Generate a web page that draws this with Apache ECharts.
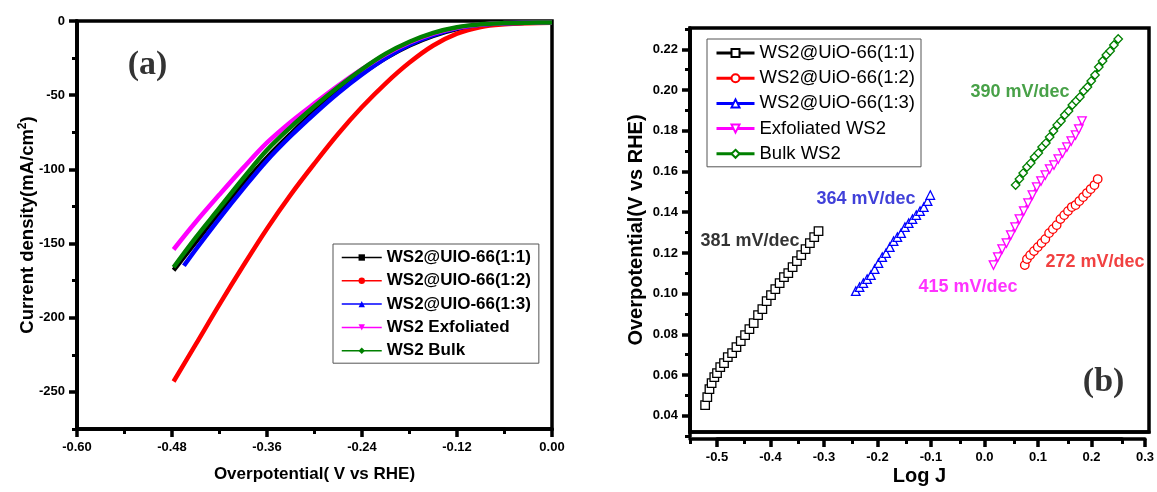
<!DOCTYPE html>
<html><head><meta charset="utf-8">
<script src="https://cdn.jsdelivr.net/npm/echarts@6/dist/echarts.min.js"></script>
<style>html,body{margin:0;padding:0;background:#fff}#c{width:1157px;height:492px}</style>
</head><body><div id="c"></div>
<script>
// ---------- Panel (a): polarization curves ----------
const lsvNames = ['WS2@UIO-66(1:1)','WS2@UIO-66(1:2)','WS2@UIO-66(1:3)','WS2 Exfoliated','WS2 Bulk'];
const lsvColors = ['#000000','#ff0000','#0000ff','#ff00ff','#008000'];
const lsvX   = [-0.478,-0.45,-0.42,-0.39,-0.36,-0.33,-0.30,-0.27,-0.24,-0.21,-0.18,-0.15,-0.12,-0.09,-0.06,-0.03,0];
const lsvX13 = [-0.465,-0.45,-0.42,-0.39,-0.36,-0.33,-0.30,-0.27,-0.24,-0.21,-0.18,-0.15,-0.12,-0.09,-0.06,-0.03,0];
const lsv11  = [-168,-149,-129,-110,-92,-76,-61,-47.5,-35.5,-25,-16.5,-10,-5.5,-2.8,-1.6,-1.1,-1];
const lsv12  = [-243,-218,-191,-165,-140,-117,-96,-76,-58,-42,-28,-16.5,-8.5,-4,-2.2,-1.5,-1.2];
const lsv13  = [-165,-154,-133,-113,-94,-77.5,-62.5,-48.5,-36,-25,-16,-9.5,-5,-2.6,-1.5,-1.1,-1];
const lsvExf = [-154,-135.5,-117,-99,-82,-68,-55.5,-43.5,-32.5,-22.5,-14.5,-8.5,-4.5,-2.3,-1.4,-1.1,-1];
const lsvBulk= [-166,-146,-126,-106,-87,-71.5,-57.5,-44.5,-32.5,-22,-14,-8,-4.2,-2.2,-1.4,-1.1,-1];

// ---------- Panel (b): Tafel plots ----------
const tafNames = ['WS2@UiO-66(1:1)','WS2@UiO-66(1:2)','WS2@UiO-66(1:3)','Exfoliated WS2','Bulk WS2'];
const tafColors = ['#000000','#ff0000','#0000ff','#ff00ff','#008000'];
const taf11 = [[-0.522,0.042],[-0.518,0.046],[-0.514,0.050],[-0.510,0.053],[-0.505,0.056],[-0.500,0.058],[-0.494,0.061],[-0.487,0.063],[-0.480,0.066],[-0.472,0.068],[-0.464,0.071],[-0.456,0.074],[-0.448,0.077],[-0.440,0.080],[-0.432,0.083],[-0.424,0.087],[-0.416,0.090],[-0.408,0.094],[-0.400,0.097],[-0.392,0.100],[-0.384,0.103],[-0.376,0.106],[-0.368,0.108],[-0.360,0.111],[-0.352,0.114],[-0.344,0.117],[-0.336,0.120],[-0.328,0.123],[-0.320,0.126],[-0.312,0.129]];
const taf12 = [[0.070,0.112],[0.074,0.115],[0.080,0.117],[0.087,0.119],[0.094,0.121],[0.101,0.123],[0.108,0.125],[0.115,0.128],[0.122,0.130],[0.129,0.132],[0.136,0.135],[0.143,0.137],[0.150,0.139],[0.157,0.141],[0.164,0.142],[0.171,0.144],[0.178,0.146],[0.185,0.148],[0.192,0.150],[0.199,0.152],[0.205,0.155]];
const taf13 = [[-0.243,0.099],[-0.236,0.101],[-0.229,0.103],[-0.222,0.105],[-0.215,0.107],[-0.208,0.110],[-0.201,0.113],[-0.194,0.116],[-0.187,0.118],[-0.180,0.121],[-0.173,0.124],[-0.166,0.126],[-0.159,0.128],[-0.152,0.131],[-0.145,0.133],[-0.138,0.135],[-0.131,0.137],[-0.124,0.139],[-0.117,0.141],[-0.110,0.144],[-0.105,0.147]];
const tafExf = [[0.012,0.112],[0.020,0.116],[0.028,0.120],[0.036,0.123],[0.044,0.127],[0.052,0.131],[0.060,0.135],[0.068,0.139],[0.076,0.143],[0.084,0.147],[0.092,0.151],[0.100,0.154],[0.108,0.157],[0.116,0.160],[0.124,0.162],[0.132,0.165],[0.140,0.168],[0.148,0.171],[0.156,0.174],[0.164,0.177],[0.170,0.180],[0.176,0.184]];
const tafBulk = [[0.053,0.152],[0.060,0.155],[0.067,0.158],[0.074,0.161],[0.081,0.163],[0.088,0.166],[0.095,0.168],[0.102,0.171],[0.109,0.173],[0.116,0.176],[0.123,0.179],[0.130,0.182],[0.137,0.184],[0.144,0.187],[0.151,0.189],[0.158,0.192],[0.165,0.194],[0.172,0.196],[0.179,0.199],[0.186,0.201],[0.193,0.204],[0.200,0.207],[0.207,0.211],[0.214,0.214],[0.221,0.217],[0.228,0.219],[0.235,0.222],[0.243,0.225]];
const slopeLabels = [
  {text:'381 mV/dec', at:[-0.439,0.1242], color:'#000000'},
  {text:'364 mV/dec', at:[-0.224,0.1451], color:'#1010d0'},
  {text:'415 mV/dec', at:[-0.035,0.1011], color:'#ff00ff'},
  {text:'272 mV/dec', at:[0.200,0.1135], color:'#ee1111'},
  {text:'390 mV/dec', at:[0.061,0.1986], color:'#1a8a1a'}
];

// axis extents and tick definitions [min, max, interval]
const aX = [-0.6, 0], aY = [-275, 0];
const bX = [-0.55, 0.3], bY = [0.0286, 0.2305];
const aMajorX = [-0.6, 0, 0.12],  aMinorX = [-0.54, -0.06, 0.12];
const aMajorY = [-250, 0, 50],    aMinorY = [-275, -25, 50];
const bMajorX = [-0.5, 0.3, 0.1], bMinorX = [-0.55, 0.25, 0.1];
const bMajorY = [0.04, 0.22, 0.02], bMinorY = [0.03, 0.23, 0.02];

const F = '"Liberation Sans", Arial, sans-serif';
const FS = '"Liberation Serif", "Times New Roman", serif';
const zip = (xs, ys) => xs.map((x, i) => [x, ys[i]]);
const downTri = 'path://M0,0 L10,0 L5,9 Z';

// data grid rectangles (pixels)
const gA = {left: 77, top: 21, width: 475, height: 408};
const gB = {left: 690, top: 28, width: 459, height: 411};

const grids = [
  Object.assign({show: true, borderColor: '#000', borderWidth: 3.5, backgroundColor: 'transparent'}, gA),
  Object.assign({show: true, borderColor: '#000', borderWidth: 3.5, backgroundColor: 'transparent'}, gB)
];
const xAxes = [], yAxes = [];

function nameStyle(size) {
  return {color: '#000', fontFamily: F, fontWeight: 'bold', fontSize: size, lineHeight: 22,
    rich: {sup: {fontSize: 12, fontWeight: 'bold', fontFamily: F, color: '#000', verticalAlign: 'top', lineHeight: 12}}};
}
function dataAxis(grid, dim, ext, name, gap, size) {
  return {type: 'value', gridIndex: grid, min: ext[0], max: ext[1], position: dim === 'x' ? 'bottom' : 'left',
    splitLine: {show: false}, axisTick: {show: false}, axisLabel: {show: false},
    axisLine: {show: true, onZero: false, lineStyle: {color: '#000', width: 3.5}},
    name: name, nameLocation: 'middle', nameGap: gap, nameTextStyle: nameStyle(size)};
}
// a tick-only axis in its own invisible grid spanning the tick range of a data axis
function tickAxis(g, dim, dataExt, tick, len, width, fmt) {
  const span = dataExt[1] - dataExt[0];
  const rect = {left: g.left, top: g.top, width: g.width, height: g.height};
  if (dim === 'x') {
    rect.left = g.left + (tick[0] - dataExt[0]) / span * g.width;
    rect.width = (tick[1] - tick[0]) / span * g.width;
  } else {
    rect.top = g.top + (dataExt[1] - tick[1]) / span * g.height;
    rect.height = (tick[1] - tick[0]) / span * g.height;
  }
  grids.push(Object.assign({show: false}, rect));
  const gi = grids.length - 1;
  const n = Math.round((tick[1] - tick[0]) / tick[2]);
  const ax = {type: 'value', gridIndex: gi, min: 0, max: n, interval: 1,
    position: dim === 'x' ? 'bottom' : 'left',
    splitLine: {show: false},
    axisLine: {show: true, onZero: false, lineStyle: {color: '#000', width: 3.5}},
    axisTick: {show: true, length: len, lineStyle: {color: '#000', width: width, opacity: 1}},
    axisLabel: fmt ? {show: true, formatter: v => fmt(tick[0] + v * tick[2]), color: '#000', fontFamily: F, fontWeight: 'bold', fontSize: 13, margin: 12} : {show: false}};
  const other = {type: 'value', gridIndex: gi, show: false, min: 0, max: 1};
  if (dim === 'x') { xAxes.push(ax); yAxes.push(other); } else { yAxes.push(ax); xAxes.push(other); }
}

xAxes.push(dataAxis(0, 'x', aX, 'Overpotential( V vs RHE)', 34, 17));
yAxes.push(dataAxis(0, 'y', aY, 'Current density(mA/cm{sup|2})', 38, 18.5));
xAxes.push(dataAxis(1, 'x', bX, 'Log J', 33, 20));
yAxes.push(dataAxis(1, 'y', bY, 'Overpotential(V vs RHE)', 43, 20));
tickAxis(gA, 'x', aX, aMajorX, 8, 3.5, v => v.toFixed(2));
tickAxis(gA, 'x', aX, aMinorX, 5, 3, null);
tickAxis(gA, 'y', aY, aMajorY, 8, 3.5, v => String(Math.round(v)));
tickAxis(gA, 'y', aY, aMinorY, 5, 3, null);
tickAxis(gB, 'x', bX, bMajorX, 8, 3.5, v => v.toFixed(1));
tickAxis(gB, 'x', bX, bMinorX, 5, 3, null);
tickAxis(gB, 'y', bY, bMajorY, 8, 3.5, v => v.toFixed(2));
tickAxis(gB, 'y', bY, bMinorY, 5, 3, null);

const aSeriesData = [zip(lsvX, lsv11), zip(lsvX, lsv12), zip(lsvX13, lsv13), zip(lsvX, lsvExf), zip(lsvX, lsvBulk)];
const symbols = ['rect', 'circle', 'triangle', downTri, 'diamond'];
const bSeriesData = [taf11, taf12, taf13, tafExf, tafBulk];

const series = [];
aSeriesData.forEach((d, i) => {
  series.push({
    name: lsvNames[i], type: 'line', xAxisIndex: 0, yAxisIndex: 0, data: d,
    color: lsvColors[i], symbol: symbols[i], symbolSize: 6, showSymbol: false,
    smooth: 0.35, lineStyle: {width: 4.5, color: lsvColors[i]}, itemStyle: {color: lsvColors[i]},
    silent: true, animation: false
  });
});
bSeriesData.forEach((d, i) => {
  series.push({
    name: tafNames[i], type: 'line', xAxisIndex: 1, yAxisIndex: 1, data: d,
    color: tafColors[i], symbol: symbols[i], symbolSize: 8.5, showSymbol: true, showAllSymbol: true,
    lineStyle: {width: 2.5, color: tafColors[i]},
    itemStyle: {color: '#ffffff', borderColor: tafColors[i], borderWidth: 1.3},
    silent: true, animation: false
  });
});
series.push({
  type: 'scatter', xAxisIndex: 0, yAxisIndex: 0, symbolSize: 0, silent: true, animation: false,
  data: [{value: [-0.511, -29.7], t: '(a)'}],
  label: {show: true, position: 'inside', formatter: p => p.data.t, fontFamily: FS, fontWeight: 'bold', fontSize: 34, color: '#000'}
});
series.push({
  type: 'scatter', xAxisIndex: 1, yAxisIndex: 1, symbolSize: 0, silent: true, animation: false,
  data: slopeLabels.map(s => ({value: s.at, t: s.text, label: {color: s.color}})).concat([{value: [0.216, 0.0535], t: '(b)', label: {fontFamily: FS, fontSize: 34, color: '#000'}}]),
  label: {show: true, position: 'inside', formatter: p => p.data.t, fontFamily: F, fontWeight: 'bold', fontSize: 18}
});

const option = {
  backgroundColor: '#fff',
  animation: false,
  grid: grids,
  xAxis: xAxes,
  yAxis: yAxes,
  legend: [
    {
      orient: 'vertical', left: 333, top: 244, data: lsvNames,
      backgroundColor: '#fff', borderColor: '#555', borderWidth: 1, borderRadius: 0,
      padding: [5, 8, 4, 8], itemWidth: 40, itemHeight: 8, itemGap: 6.3,
      lineStyle: {width: 1.5},
      textStyle: {fontFamily: F, fontWeight: 'bold', fontSize: 17, color: '#000', lineHeight: 16}
    },
    {
      orient: 'vertical', left: 707, top: 39, data: tafNames,
      backgroundColor: '#fff', borderColor: '#555', borderWidth: 1, borderRadius: 0,
      padding: [4, 6, 3, 8], itemWidth: 38, itemHeight: 10, itemGap: 5.2,
      lineStyle: {width: 3},
      textStyle: {fontFamily: F, fontSize: 18.5, color: '#000', lineHeight: 20}
    }
  ],
  series: series
};
const chart = echarts.init(document.getElementById('c'), null, {renderer: 'canvas'});
chart.setOption(option);
</script></body></html>
